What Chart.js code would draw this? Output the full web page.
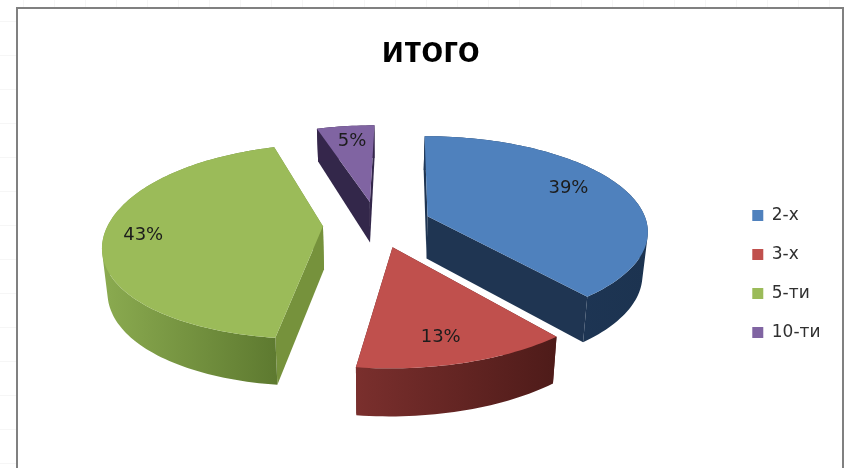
<!DOCTYPE html>
<html>
<head>
<meta charset="utf-8">
<style>html,body{margin:0;padding:0;background:#fff}canvas{display:block}</style>
<script src="https://cdn.jsdelivr.net/npm/chart.js@4/dist/chart.umd.min.js"></script>
</head>
<body>
<div style="width:844px;height:468px"><canvas id="c"></canvas></div>
<script>
const categories = ['2-х', '3-х', '5-ти', '10-ти'];
const shares = [39, 13, 43, 5];
const titleText = 'итого';
const topColors = ['#4f81bd', '#c0504d', '#9bbb59', '#8064a2'];
const wallLeft = ['#20395a', '#7a2f2d', '#8bab50', '#35264b'];
const wallRight = ['#1c3350', '#4e1b19', '#5e7a30', '#35264b'];
const cutColors = ['#1f3552', '#5a2120', '#76923c', '#33274a'];
const labelTurn = [-5, 2, -1, 1];
const labelReach = [0.76, 0.80, 0.81, 0.77];
const sliceNudge = [0, 1, 0, 0];

// view of the tilted pie plane
const view = { cx: 377, cy: 224, radius: 220, tilt: 0.43, persp: 0.0007, shear: 0.02, narrow: 0.98, leftEase: 5 };
const explode = 54;

function project(u, v, nudge) {
  const w = 1 / (1 - view.persp * v);
  const ease = u < 0 ? view.leftEase * Math.pow(u / 270, 4) : 0;
  return { x: view.cx + (u - view.shear * v) * w + ease + (nudge || 0), y: view.cy + view.tilt * v * w };
}
function drop(p) {
  const h = 43 + (p.y - view.cy) * (p.y < view.cy ? 0.105 : 0.035);
  return { x: view.cx + (p.x - view.cx) * view.narrow, y: p.y + h };
}
function addPoly(ctx, pts) {
  let area = 0;
  pts.forEach((p, i) => { const q = pts[(i + 1) % pts.length]; area += p.x * q.y - q.x * p.y; });
  const ordered = area < 0 ? pts.slice().reverse() : pts;
  ordered.forEach((p, i) => i ? ctx.lineTo(p.x, p.y) : ctx.moveTo(p.x, p.y));
  ctx.closePath();
}
function trace(ctx, pts) {
  ctx.beginPath();
  addPoly(ctx, pts);
}
function sliceGeom(el, i) {
  const mid = (el.startAngle + el.endAngle) / 2;
  const ou = Math.cos(mid) * explode, ov = Math.sin(mid) * explode;
  const arc = [];
  const n = Math.max(8, Math.ceil((el.endAngle - el.startAngle) * 40));
  for (let k = 0; k <= n; k++) {
    const a = el.startAngle + (el.endAngle - el.startAngle) * k / n;
    arc.push(project(ou + Math.cos(a) * view.radius, ov + Math.sin(a) * view.radius, sliceNudge[i]));
  }
  return { mid, ou, ov, arc, apex: project(ou, ov, sliceNudge[i]) };
}

const pie3d = {
  id: 'pie3d',
  beforeDraw(chart) {
    const ctx = chart.ctx;
    ctx.save();
    ctx.fillStyle = '#fff';
    ctx.fillRect(0, 0, 844, 468);
    ctx.strokeStyle = '#f6f6f6';
    ctx.lineWidth = 1;
    for (let y = 21; y < 468; y += 34) { ctx.beginPath(); ctx.moveTo(0, y + 0.5); ctx.lineTo(16, y + 0.5); ctx.stroke(); }
    for (let x = 23; x < 844; x += 31) { ctx.beginPath(); ctx.moveTo(x + 0.5, 0); ctx.lineTo(x + 0.5, 7); ctx.stroke(); }
    ctx.fillStyle = '#808080';
    ctx.fillRect(16, 7, 828, 2);
    ctx.fillRect(16, 7, 2, 461);
    ctx.fillRect(842, 7, 2, 461);
    ctx.restore();
  },
  beforeDatasetDraw(chart, args) {
    const ctx = chart.ctx;
    const arcs = chart.getDatasetMeta(args.index).data;
    ctx.save();
    arcs.forEach((el, i) => {
      const g = sliceGeom(el, i);
      const bottomArc = g.arc.map(drop);
      const apexB = drop(g.apex);
      const first = g.arc[0], last = g.arc[g.arc.length - 1];
      ctx.fillStyle = cutColors[i];
      trace(ctx, [g.apex, first, bottomArc[0], apexB]); ctx.fill();
      trace(ctx, [g.apex, last, bottomArc[bottomArc.length - 1], apexB]); ctx.fill();
      const xs = g.arc.map(p => p.x);
      const grad = ctx.createLinearGradient(Math.min(...xs), 0, Math.max(...xs), 0);
      grad.addColorStop(0, wallLeft[i]);
      grad.addColorStop(1, wallRight[i]);
      ctx.fillStyle = grad;
      ctx.beginPath();
      for (let k = 0; k < g.arc.length - 1; k++) {
        addPoly(ctx, [g.arc[k], g.arc[k + 1], bottomArc[k + 1], bottomArc[k]]);
      }
      ctx.fill('nonzero');
      ctx.fillStyle = topColors[i];
      trace(ctx, [g.apex].concat(g.arc)); ctx.fill();
    });
    ctx.restore();
    return false;
  },
  afterDatasetsDraw(chart) {
    const ctx = chart.ctx;
    const arcs = chart.getDatasetMeta(0).data;
    ctx.save();
    ctx.font = '18px "DejaVu Sans"';
    ctx.fillStyle = '#1c1c1c';
    ctx.textAlign = 'center';
    ctx.textBaseline = 'middle';
    arcs.forEach((el, i) => {
      const g = sliceGeom(el, i);
      const a = g.mid + labelTurn[i] * Math.PI / 180;
      const r = view.radius * labelReach[i];
      const p = project(g.ou + Math.cos(a) * r, g.ov + Math.sin(a) * r, sliceNudge[i]);
      ctx.fillText(shares[i] + '%', p.x - 1, p.y);
    });
    ctx.restore();
  }
};

new Chart(document.getElementById('c'), {
  type: 'pie',
  data: {
    labels: categories,
    datasets: [{ data: shares, backgroundColor: topColors, borderWidth: 0, offset: explode }]
  },
  plugins: [pie3d],
  options: {
    responsive: true,
    maintainAspectRatio: false,
    animation: false,
    layout: { padding: { left: 31, right: 13.5, top: 30, bottom: 0 } },
    plugins: {
      tooltip: { enabled: false },
      title: {
        display: true,
        text: titleText,
        color: '#000',
        font: { family: '"Liberation Sans"', size: 36, weight: 'bold' },
        padding: { top: 0, bottom: 7 }
      },
      legend: {
        position: 'right',
        fullSize: false,
        labels: {
          boxWidth: 11,
          boxHeight: 11,
          color: '#303030',
          padding: 22,
          font: { family: '"DejaVu Sans"', size: 17 }
        }
      }
    }
  }
});
</script>
</body>
</html>
